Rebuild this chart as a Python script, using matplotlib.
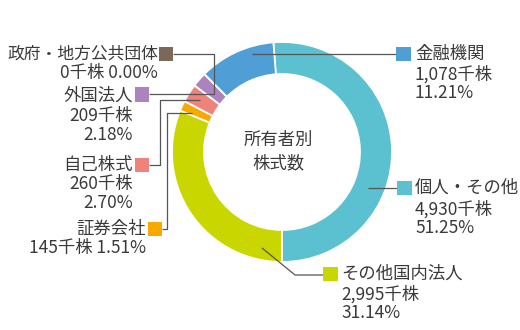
import matplotlib
matplotlib.use("Agg")
import matplotlib.pyplot as plt
from matplotlib.patches import Rectangle

plt.rcParams['font.family'] = ['Noto Sans CJK JP', 'DejaVu Sans']

# ---- data (clockwise from top) ----
categories = ['個人・その他', 'その他国内法人', '証券会社', '自己株式', '外国法人', '政府・地方公共団体', '金融機関']
shares = [4930, 2995, 145, 260, 209, 0, 1078]          # 千株
percents = [51.25, 31.14, 1.51, 2.70, 2.18, 0.00, 11.21]
colors = ['#5bc0cf', '#cad600', '#f8a900', '#f08379', '#ac83bf', '#7b6856', '#4f9ed6']
center_title = '所有者別\n株式数'

W, H = 520, 330
TXT = '#3a3a3a'
LINE = '#555555'
FS = 12.5

fig = plt.figure(figsize=(W / 100, H / 100), dpi=100)
ax = fig.add_axes([0, 0, 1, 1])

def Y(py):
    return H - py

cx, cy, R, ring = 282, 152, 110, 32
ax.pie(percents, colors=colors, startangle=94.5, counterclock=False,
       radius=R, center=(cx, Y(cy)),
       wedgeprops=dict(width=ring, edgecolor='white', linewidth=1.3))
ax.set_xlim(0, W)
ax.set_ylim(0, H)
ax.set_aspect('equal')
ax.axis('off')

ax.text(cx - 4, Y(140), center_title.split('\n')[0], ha='center', va='center', fontsize=FS, color=TXT)
ax.text(cx - 4, Y(163), center_title.split('\n')[1], ha='center', va='center', fontsize=FS, color=TXT)

# ---- label layout (pixel coords): square centre, text side, line rows, leader path ----
layout = {
    '金融機関': dict(sq=(403.5, 54), side='right', tx=415, rows=[54, 74, 93], combine=False,
                 path=[(252, 54), (396, 54)]),
    '個人・その他': dict(sq=(404.5, 188), side='right', tx=415, rows=[188, 209, 228], combine=False,
                   path=[(368, 188), (397, 188)]),
    'その他国内法人': dict(sq=(330.5, 274), side='right', tx=341, rows=[274, 294, 313], combine=False,
                    path=[(262, 248), (295, 275), (323, 275)]),
    '政府・地方公共団体': dict(sq=(166, 54), side='left', tx=158, rows=[54, 73], combine=True,
                      path=[(173, 54), (214, 54), (214, 94)]),
    '外国法人': dict(sq=(142, 94.5), side='left', tx=133, rows=[96, 116, 135], combine=False,
                 path=[(149, 94), (214, 94)]),
    '自己株式': dict(sq=(142, 165), side='left', tx=133, rows=[165, 184, 203], combine=False,
                 path=[(149, 165), (160, 165), (160, 100), (200, 100)]),
    '証券会社': dict(sq=(155, 229), side='left', tx=146, rows=[229, 248], combine=True,
                 path=[(162, 229), (167, 229), (167, 113), (192, 113)]),
}

SQ = 14.5
for cat, sh, pc, col in zip(categories, shares, percents, colors):
    L = layout[cat]
    xs = [p[0] for p in L['path']]
    ys = [Y(p[1]) for p in L['path']]
    ax.plot(xs, ys, color=LINE, lw=0.9, solid_capstyle='butt', zorder=3)
    sx, sy = L['sq']
    ax.add_patch(Rectangle((sx - SQ / 2, Y(sy) - SQ / 2), SQ, SQ, facecolor=col,
                           edgecolor='none', zorder=4))
    sh_txt = f'{sh:,}千株'
    pc_txt = f'{pc:.2f}%'
    if L['combine']:
        lines = [cat, f'{sh_txt} {pc_txt}']
    else:
        lines = [cat, sh_txt, pc_txt]
    ha = 'left' if L['side'] == 'right' else 'right'
    for i, (t, ry) in enumerate(zip(lines, L['rows'])):
        fs = FS
        if i == 0 and len(t) > 8:
            fs = FS - 0.4
        ax.text(L['tx'], Y(ry), t, ha=ha, va='center', fontsize=fs, color=TXT)

fig.savefig('out.png', dpi=100, facecolor='white')
